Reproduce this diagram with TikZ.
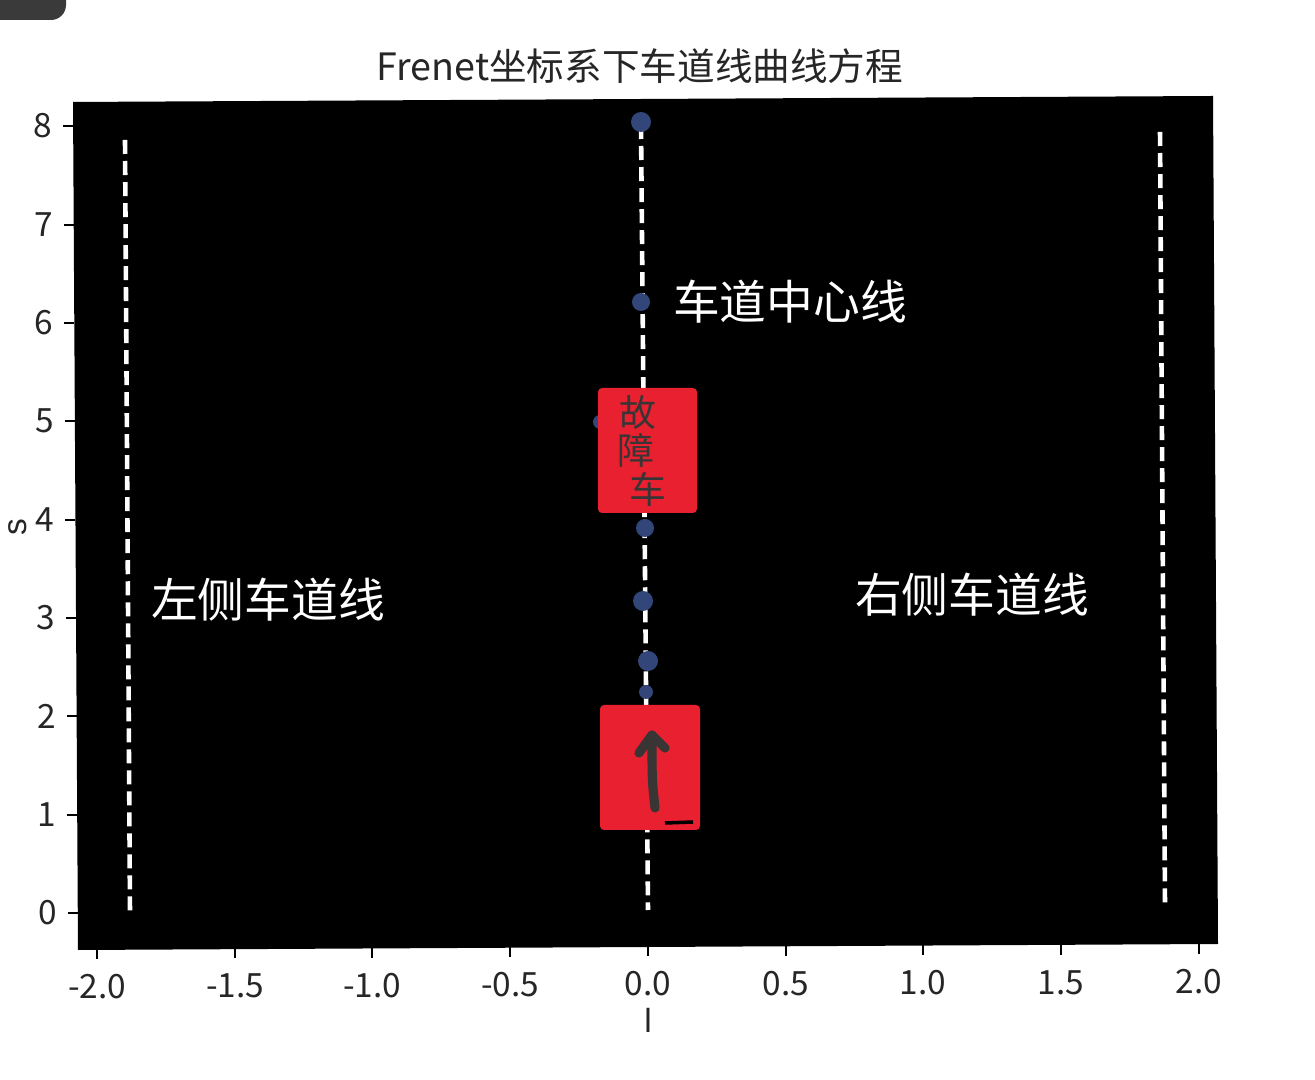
\documentclass[tikz,border=0pt]{standalone}
\usepackage{fontspec}
\setmainfont{Noto Sans CJK SC}
\newfontfamily\cjk{Noto Sans CJK SC}
\newfontfamily\plainsans{Liberation Sans}
\definecolor{dotblue}{HTML}{33467A}
\definecolor{boxred}{HTML}{E8202F}
\definecolor{inkgray}{HTML}{3A3535}
\definecolor{tabgray}{HTML}{3A3A3A}
\tikzset{
  lane/.style={white, line width=1.3pt, dash pattern=on 0.14cm off 0.07cm},
  bdot/.style={fill=dotblue},
  carbox/.style={fill=boxred, rounded corners=0.04cm},
  ticklab/.style={font=\cjk\fontsize{9.5pt}{11pt}\selectfont, text=black!85},
  lanelab/.style={font=\cjk\fontsize{13.3pt}{15pt}\selectfont, text=white},
  tickmark/.style={black, line width=0.5pt},
  hand/.style={font=\cjk\fontsize{10.5pt}{11pt}\selectfont, text=inkgray},
}
\begin{document}
\begin{tikzpicture}[x=0.01cm, y=-0.01cm]
\useasboundingbox (0,0) rectangle (1315,1080);
\fill[white] (0,0) rectangle (1315,1080);
% top-left tab
\fill[tabgray, rounded corners=0.15cm] (-30,-30) rectangle (66,20);
% title
\node[font=\cjk\fontsize{10.7pt}{12pt}\selectfont, text=black!85] (title) at (640,66) {Frenet坐标系下车道线曲线方程};
% axes area
\fill[black] (73,102) -- (1213,96) -- (1218,944) -- (78,950) -- cycle;
% y ticks
\foreach \v/\yy/\xx in {8/126/73,7/225/74,6/323/74,5/421/75,4/520/75,3/618/76,2/716/77,1/815/77,0/913/78}{
  \draw[tickmark] (\xx-10,\yy) -- (\xx,\yy);
  \node[ticklab, anchor=east, inner sep=2pt] (yl\v) at (\xx-13,\yy) {\v};
}
% x ticks
\foreach \lab/\xx/\yy [count=\i] in {-2.0/97/949,-1.5/235/948,-1.0/372/948,-0.5/510/947,0.0/648/946,0.5/786/946,1.0/923/945,1.5/1061/945,2.0/1199/944}{
  \draw[tickmark] (\xx,\yy) -- (\xx,\yy+10);
  \node[ticklab] (xl\i) at (\xx,\yy+38) {\lab};
}
\node[ticklab, font=\plainsans\fontsize{9.5pt}{11pt}\selectfont] (xlabel) at (648,1020) {l};
\node[ticklab, font=\plainsans\fontsize{9.5pt}{11pt}\selectfont, rotate=90, inner sep=0pt] (ylabel) at (18,527) {s};
% lane lines
\coordinate (L1) at (125,140); \coordinate (L2) at (130,912);
\coordinate (C1) at (641,125); \coordinate (C2) at (648,910);
\coordinate (R1) at (1160,132); \coordinate (R2) at (1165,905);
\draw[lane] (L1) -- (L2);
\draw[lane] (C1) -- (C2);
\draw[lane] (R1) -- (R2);
% blue dots
\fill[bdot] (641,122) circle (10);
\fill[bdot] (641,302) circle (9);
\fill[bdot] (645,528) circle (9);
\fill[bdot] (643,601) circle (10);
\fill[bdot] (648,661) circle (10);
\fill[bdot] (646,692) circle (7);
\fill[bdot] (600,422) circle (7);
% red boxes
\fill[carbox] (598,388) rectangle (697,513);
\fill[carbox] (600,705) rectangle (700,830);
% handwritten text in top box
\node[hand] (c1) at (638,412) {故};
\node[hand] (c2) at (636,450) {障};
\node[hand] (c3) at (648,489) {车};
% arrow in bottom box
\coordinate (A1) at (655,808); \coordinate (A2) at (652,735);
\draw[inkgray, line width=2.6pt, line cap=round, line join=round] (A1) .. controls (652,780) .. (A2);
\draw[inkgray, line width=2.6pt, line cap=round, line join=round] (639,753) -- (A2) -- (665,748);
\draw[black, line width=1pt] (665,823) -- (693,822);
% lane labels
\node[lanelab] (center) at (790,302) {车道中心线};
\node[lanelab] (left) at (268,600) {左侧车道线};
\node[lanelab] (right) at (972,595) {右侧车道线};
\end{tikzpicture}
\end{document}
